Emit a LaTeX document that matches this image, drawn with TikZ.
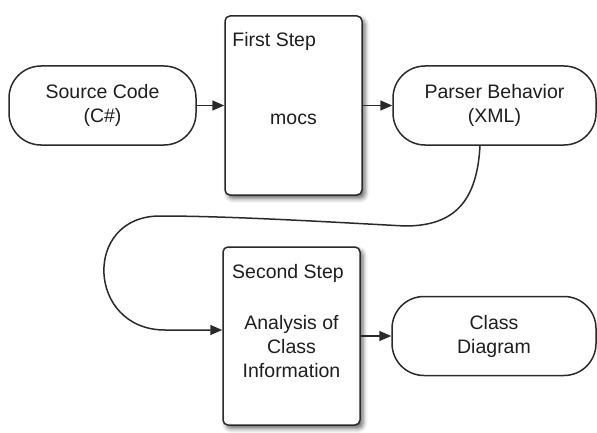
\documentclass[tikz,border=0pt]{standalone}
\usepackage{fontspec}
\setmainfont{Liberation Sans}
\usetikzlibrary{arrows.meta,shadows.blur}
\definecolor{lineC}{HTML}{2A2A2A}
\definecolor{textC}{HTML}{1E1E1E}
\begin{document}
\begin{tikzpicture}[x=1pt,y=1pt,
  every node/.style={text=textC,font=\fontsize{19.5}{24}\selectfont},
  capsule/.style={draw=lineC,line width=1.5pt,rounded corners=32pt,fill=white,
    minimum height=79pt,align=center,inner sep=0pt},
  stepbox/.style={draw=lineC,line width=1.5pt,rounded corners=5pt,fill=white,
    minimum width=137pt,inner sep=0pt,
    blur shadow={shadow xshift=3pt,shadow yshift=-3.5pt,shadow blur radius=4.5pt,shadow opacity=60}},
  txt/.style={inner sep=0pt,align=center},
  arr/.style={draw=lineC,line width=1.5pt,-{Triangle[length=12pt,width=10pt]}}]
\useasboundingbox (0,0) rectangle (597,432);
% boxes
\node[capsule,minimum width=187pt] (src) at (102.5,326.5) {Source Code\\(C\#)};
\node[stepbox,minimum height=179pt] (step1) at (293.5,326.5) {};
\node[capsule,minimum width=203pt] (parser) at (494.5,326.5) {Parser Behavior\\(XML)};
\node[stepbox,minimum height=178pt] (step2) at (291.5,96) {};
\node[capsule,minimum width=204pt] (cls) at (494,96) {Class\\Diagram};
% texts in step boxes
\node[txt,anchor=north west] (t1) at ([xshift=8pt,yshift=-17pt]step1.north west) {First Step};
\node[txt,anchor=base] (m1) at (293.5,307) {mocs};
\node[txt,anchor=base west] (t2) at (232,154) {Second Step};
\node[txt] (m2) at (291.5,85) {Analysis of\\Class\\Information};
% connectors
\draw[arr] (src.east) -- (step1.west);
\draw[arr] (step1.east) -- (parser.west);
\draw[arr] (step2.east) -- (cls.west);
\coordinate (ca) at (405,206);
\coordinate (cb) at (160,216);
\coordinate (cc) at (165,102);
\draw[arr] ([xshift=-14.5pt]parser.south) .. controls +(-3,-55) and +(50,0) .. (ca)
  .. controls (330,210) and (230,216) .. (cb)
  to[out=180,in=180,looseness=1.75] (cc) -- (cc -| step2.west);
\end{tikzpicture}
\end{document}
